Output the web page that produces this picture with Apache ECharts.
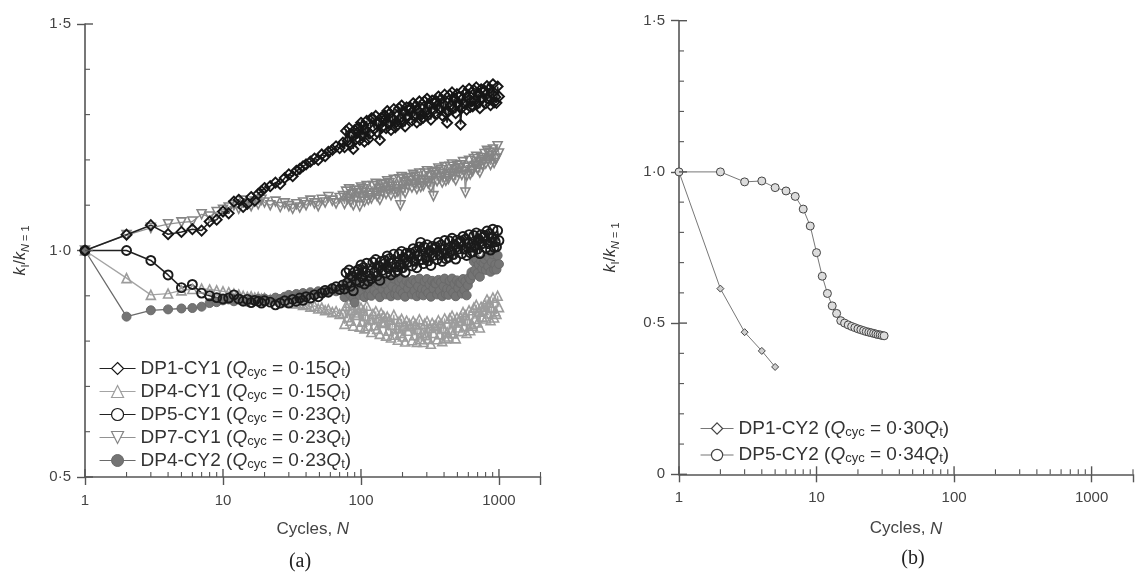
<!DOCTYPE html>
<html>
<head>
<meta charset="utf-8">
<script src="https://cdn.jsdelivr.net/npm/echarts@6/dist/echarts.min.js"></script>
<style>
  html, body { margin: 0; padding: 0; background: #ffffff; }
  #chart { width: 1136px; height: 577px; }
</style>
</head>
<body>
<div id="chart"></div>
<script>
// ---------- panel (a): stiffness ratio against cycle number ----------
const cycles = [
  1, 2, 3, 4, 5, 6, 7, 8, 9, 10,
  11, 12, 13, 14, 15, 16, 17, 18, 19, 20,
  22, 24, 26, 28, 30, 32, 34, 36, 38, 40,
  43, 46, 49, 52, 55, 58, 62, 66, 70, 74,
  76, 78, 80, 82, 84, 86, 88, 90, 92, 94,
  96, 98, 100, 102, 104, 106, 108, 110, 113, 116,
  119, 122, 125, 128, 131, 134, 137, 140, 143, 146,
  149, 152, 155, 158, 161, 165, 169, 173, 177, 181,
  185, 189, 193, 197, 201, 205, 209, 214, 219, 224,
  229, 234, 239, 244, 249, 254, 259, 265, 271, 277,
  283, 289, 295, 301, 307, 314, 321, 328, 335, 342,
  349, 356, 364, 372, 380, 388, 396, 404, 412, 421,
  430, 439, 448, 457, 466, 476, 486, 496, 506, 516,
  527, 538, 549, 560, 571, 583, 595, 607, 619, 632,
  645, 658, 671, 685, 699, 713, 727, 742, 757, 772,
  787, 803, 819, 835, 852, 869, 886, 904, 922, 940,
  959, 978, 1000
];

const dp1cy1 = [
  1.000, 1.035, 1.056, 1.036, 1.041, 1.047, 1.044, 1.064, 1.068, 1.086,
  1.082, 1.108, 1.112, 1.096, 1.103, 1.118, 1.110, 1.125, 1.131, 1.138,
  1.142, 1.150, 1.147, 1.160, 1.168, 1.164, 1.176, 1.180, 1.186, 1.190,
  1.196, 1.203, 1.200, 1.212, 1.208, 1.218, 1.222, 1.230, 1.226, 1.238,
  1.228, 1.264, 1.242, 1.270, 1.234, 1.256, 1.224, 1.266, 1.246, 1.260,
  1.272, 1.244, 1.282, 1.254, 1.276, 1.240, 1.266, 1.286, 1.246, 1.258,
  1.292, 1.291, 1.269, 1.297, 1.261, 1.283, 1.244, 1.293, 1.273, 1.287,
  1.298, 1.270, 1.308, 1.280, 1.302, 1.266, 1.292, 1.312, 1.272, 1.284,
  1.278, 1.314, 1.292, 1.320, 1.284, 1.306, 1.274, 1.316, 1.296, 1.310,
  1.315, 1.287, 1.325, 1.297, 1.319, 1.283, 1.309, 1.329, 1.289, 1.301,
  1.293, 1.329, 1.307, 1.335, 1.299, 1.321, 1.289, 1.331, 1.311, 1.325,
  1.330, 1.302, 1.340, 1.312, 1.334, 1.298, 1.324, 1.344, 1.304, 1.282,
  1.307, 1.343, 1.321, 1.349, 1.313, 1.335, 1.303, 1.345, 1.325, 1.339,
  1.278, 1.315, 1.353, 1.325, 1.347, 1.311, 1.337, 1.357, 1.317, 1.329,
  1.318, 1.354, 1.332, 1.360, 1.324, 1.346, 1.314, 1.356, 1.336, 1.350,
  1.353, 1.325, 1.363, 1.335, 1.357, 1.321, 1.347, 1.367, 1.327, 1.339,
  1.326, 1.362, 1.340
];

const dp4cy1 = [
  1.000, 0.939, 0.902, 0.905, 0.912, 0.915, 0.916, 0.914, 0.912, 0.910,
  0.908, 0.905, 0.903, 0.900, 0.898, 0.899, 0.896, 0.897, 0.894, 0.895,
  0.892, 0.893, 0.889, 0.890, 0.886, 0.887, 0.883, 0.884, 0.880, 0.881,
  0.876, 0.878, 0.872, 0.874, 0.868, 0.870, 0.864, 0.866, 0.860, 0.862,
  0.838, 0.878, 0.853, 0.884, 0.845, 0.869, 0.834, 0.880, 0.858, 0.873,
  0.863, 0.832, 0.874, 0.843, 0.867, 0.828, 0.856, 0.878, 0.834, 0.848,
  0.820, 0.860, 0.835, 0.866, 0.827, 0.851, 0.816, 0.862, 0.840, 0.855,
  0.843, 0.812, 0.854, 0.823, 0.847, 0.808, 0.836, 0.858, 0.814, 0.828,
  0.803, 0.843, 0.818, 0.849, 0.810, 0.834, 0.799, 0.845, 0.823, 0.838,
  0.833, 0.802, 0.844, 0.813, 0.837, 0.798, 0.826, 0.848, 0.804, 0.818,
  0.798, 0.838, 0.813, 0.844, 0.805, 0.829, 0.794, 0.840, 0.818, 0.833,
  0.835, 0.804, 0.846, 0.815, 0.839, 0.800, 0.828, 0.850, 0.806, 0.820,
  0.810, 0.850, 0.825, 0.856, 0.817, 0.841, 0.806, 0.852, 0.830, 0.845,
  0.853, 0.822, 0.864, 0.833, 0.857, 0.818, 0.846, 0.868, 0.824, 0.838,
  0.834, 0.874, 0.849, 0.880, 0.841, 0.865, 0.830, 0.876, 0.854, 0.869,
  0.881, 0.850, 0.892, 0.861, 0.885, 0.846, 0.874, 0.896, 0.852, 0.866,
  0.860, 0.900, 0.875
];

const dp5cy1 = [
  1.000, 1.000, 0.978, 0.946, 0.918, 0.925, 0.906, 0.900, 0.896, 0.893,
  0.895, 0.902, 0.893, 0.888, 0.892, 0.885, 0.890, 0.888, 0.884, 0.889,
  0.886, 0.880, 0.884, 0.889, 0.884, 0.892, 0.888, 0.895, 0.890, 0.898,
  0.895, 0.902, 0.898, 0.906, 0.912, 0.908, 0.916, 0.920, 0.914, 0.924,
  0.915, 0.951, 0.929, 0.957, 0.921, 0.943, 0.911, 0.953, 0.933, 0.947,
  0.958, 0.930, 0.968, 0.940, 0.962, 0.926, 0.952, 0.972, 0.932, 0.944,
  0.938, 0.974, 0.952, 0.980, 0.944, 0.966, 0.934, 0.976, 0.956, 0.970,
  0.978, 0.950, 0.988, 0.960, 0.982, 0.946, 0.972, 0.992, 0.952, 0.964,
  0.956, 0.992, 0.970, 0.998, 0.962, 0.984, 0.952, 0.994, 0.974, 0.988,
  0.994, 0.966, 1.004, 0.976, 0.998, 0.962, 0.988, 1.008, 1.018, 0.980,
  0.971, 1.007, 0.985, 1.013, 0.977, 0.999, 0.967, 1.009, 0.989, 1.003,
  1.008, 0.980, 1.018, 0.990, 1.012, 0.976, 1.002, 1.022, 0.982, 0.994,
  0.985, 1.021, 0.999, 1.027, 0.991, 1.013, 0.981, 1.023, 1.003, 1.017,
  1.021, 0.993, 1.031, 1.003, 1.025, 0.989, 1.015, 1.035, 0.995, 1.007,
  0.997, 1.033, 1.011, 1.039, 1.003, 1.025, 0.993, 1.035, 1.015, 1.029,
  1.033, 1.005, 1.043, 1.015, 1.037, 1.001, 1.027, 1.047, 1.007, 1.019,
  1.008, 1.044, 1.022
];

const dp7cy1 = [
  1.000, 1.034, 1.050, 1.058, 1.062, 1.064, 1.080, 1.075, 1.085, 1.090,
  1.095, 1.100, 1.092, 1.110, 1.104, 1.098, 1.108, 1.102, 1.112, 1.106,
  1.100, 1.108, 1.096, 1.104, 1.098, 1.092, 1.102, 1.095, 1.106, 1.100,
  1.110, 1.104, 1.098, 1.112, 1.106, 1.118, 1.110, 1.104, 1.116, 1.120,
  1.103, 1.130, 1.114, 1.135, 1.108, 1.124, 1.100, 1.132, 1.117, 1.127,
  1.132, 1.098, 1.139, 1.118, 1.135, 1.108, 1.127, 1.142, 1.112, 1.121,
  1.115, 1.142, 1.126, 1.147, 1.120, 1.136, 1.112, 1.144, 1.129, 1.139,
  1.146, 1.125, 1.153, 1.132, 1.149, 1.122, 1.141, 1.156, 1.126, 1.135,
  1.130, 1.157, 1.100, 1.162, 1.135, 1.151, 1.127, 1.159, 1.144, 1.154,
  1.160, 1.139, 1.167, 1.146, 1.163, 1.136, 1.155, 1.170, 1.140, 1.149,
  1.143, 1.170, 1.154, 1.175, 1.148, 1.164, 1.140, 1.172, 1.120, 1.167,
  1.174, 1.153, 1.181, 1.160, 1.177, 1.150, 1.169, 1.184, 1.154, 1.163,
  1.158, 1.185, 1.169, 1.190, 1.163, 1.179, 1.155, 1.187, 1.172, 1.182,
  1.188, 1.167, 1.195, 1.174, 1.128, 1.164, 1.183, 1.198, 1.168, 1.177,
  1.175, 1.202, 1.186, 1.207, 1.180, 1.196, 1.172, 1.204, 1.189, 1.199,
  1.213, 1.192, 1.220, 1.199, 1.216, 1.189, 1.208, 1.223, 1.193, 1.202,
  1.203, 1.230, 1.214
];

const dp4cy2 = [
  1.000, 0.854, 0.868, 0.870, 0.872, 0.873, 0.876, 0.884, 0.886, 0.890,
  0.892, 0.888, 0.894, 0.890, 0.887, 0.892, 0.889, 0.893, 0.890, 0.894,
  0.891, 0.896, 0.893, 0.898, 0.902, 0.897, 0.904, 0.900, 0.906, 0.902,
  0.908, 0.904, 0.910, 0.906, 0.912, 0.908, 0.914, 0.910, 0.916, 0.911,
  0.897, 0.928, 0.909, 0.933, 0.902, 0.921, 0.894, 0.885, 0.912, 0.924,
  0.925, 0.901, 0.933, 0.909, 0.928, 0.897, 0.919, 0.936, 0.902, 0.913,
  0.900, 0.931, 0.912, 0.936, 0.905, 0.924, 0.897, 0.932, 0.915, 0.927,
  0.927, 0.903, 0.935, 0.911, 0.930, 0.899, 0.921, 0.938, 0.904, 0.915,
  0.901, 0.932, 0.913, 0.937, 0.906, 0.925, 0.898, 0.933, 0.916, 0.928,
  0.927, 0.903, 0.935, 0.911, 0.930, 0.899, 0.921, 0.938, 0.904, 0.915,
  0.901, 0.932, 0.913, 0.937, 0.906, 0.925, 0.898, 0.933, 0.916, 0.928,
  0.927, 0.903, 0.935, 0.911, 0.930, 0.899, 0.921, 0.938, 0.904, 0.915,
  0.902, 0.933, 0.914, 0.938, 0.907, 0.926, 0.899, 0.934, 0.917, 0.929,
  0.928, 0.905, 0.937, 0.913, 0.932, 0.901, 0.923, 0.940, 0.936, 0.952,
  0.945, 0.976, 0.957, 0.981, 0.950, 0.969, 0.942, 0.977, 0.960, 0.972,
  0.981, 0.957, 0.989, 0.965, 0.984, 0.953, 0.975, 0.992, 0.958, 0.969,
  0.958, 0.989, 0.970
];

const testsA = ['DP1-CY1', 'DP4-CY1', 'DP5-CY1', 'DP7-CY1', 'DP4-CY2'];
const loadsA = ['0·15', '0·15', '0·23', '0·23', '0·23'];

// ---------- panel (b) ----------
const cyclesDP1CY2 = [1, 2, 3, 4, 5];
const dp1cy2 = [1.000, 0.614, 0.470, 0.408, 0.355];
const cyclesDP5CY2 = [
  1, 2, 3, 4, 5, 6, 7, 8, 9, 10,
  11, 12, 13, 14, 15, 16, 17, 18, 19, 20,
  21, 22, 23, 24, 25, 26, 27, 28, 29, 30, 31
];
const dp5cy2 = [
  1.000, 1.000, 0.967, 0.970, 0.948, 0.937, 0.919, 0.877, 0.821, 0.733,
  0.655, 0.598, 0.557, 0.532, 0.508, 0.500, 0.494, 0.489, 0.485, 0.481,
  0.478, 0.475, 0.472, 0.470, 0.468, 0.466, 0.464, 0.462, 0.461, 0.459, 0.458
];
const testsB = ['DP1-CY2', 'DP5-CY2'];
const loadsB = ['0·30', '0·34'];

// ---------- axis ticks ----------
const xTickLabels = ['1', '10', '100', '1000'];
const xInnerTicks = [1, 2, 3, 4, 5, 6, 7, 8, 9, 10, 20, 30, 40, 50, 60, 70, 80, 90,
  100, 200, 300, 400, 500, 600, 700, 800, 900, 1000, 2000];
const yInnerTicksA = [0.5, 0.6, 0.7, 0.8, 0.9, 1.0, 1.1, 1.2, 1.3, 1.4, 1.5];
const yInnerTicksB = [0, 0.1, 0.2, 0.3, 0.4, 0.5, 0.6, 0.7, 0.8, 0.9, 1.0, 1.1, 1.2, 1.3, 1.4, 1.5];

const FONT = 'Liberation Sans, Arial, Helvetica, sans-serif';
const AXIS_COLOR = '#555';
const TEXT_COLOR = '#444';

const pairs = (xs, ys) => xs.map((x, i) => [x, ys[i]]);
const fmtY = v => (Math.abs(v) < 1e-9 ? '0' : v.toFixed(1).replace('.', '·'));
const fmtX = v => {
  const s = String(Math.round(v));
  return xTickLabels.indexOf(s) >= 0 && Math.abs(v - Math.round(v)) < 1e-6 ? s : '';
};

function legendLabel(names, loads) {
  return function (name) {
    const q = loads[names.indexOf(name)];
    return '{t|' + name + ' (}{q|Q}{s|cyc}{t| = ' + q + '}{q|Q}{s|t}{t|)}';
  };
}

const legendRich = {
  t: { fontSize: 19, lineHeight: 20, color: '#333', fontFamily: FONT },
  q: { fontSize: 19, lineHeight: 20, color: '#333', fontStyle: 'italic', fontFamily: FONT },
  s: { fontSize: 13, lineHeight: 8, verticalAlign: 'bottom', color: '#333', fontFamily: FONT }
};

const yNameRich = {
  k: { fontSize: 16, lineHeight: 20, fontStyle: 'italic', color: '#333', fontFamily: FONT },
  n: { fontSize: 16, lineHeight: 20, color: '#333', fontFamily: FONT },
  sb: { fontSize: 11, lineHeight: 8, verticalAlign: 'bottom', color: '#333', fontFamily: FONT },
  sbi: { fontSize: 11, lineHeight: 8, verticalAlign: 'bottom', fontStyle: 'italic', color: '#333', fontFamily: FONT }
};
const yName = '{k|k}{sb|I}{n|/}{k|k}{sbi|N}{sb| = 1}';

function xAxisCfg(gridIndex, nameGap) {
  return {
    type: 'log', logBase: 10, gridIndex, min: 1, max: 2000,
    name: 'Cycles, {i|N}', nameLocation: 'middle', nameGap,
    nameTextStyle: { fontSize: 17, color: TEXT_COLOR, fontFamily: FONT,
      rich: { i: { fontSize: 17, fontStyle: 'italic', color: TEXT_COLOR, fontFamily: FONT } } },
    axisLine: { lineStyle: { color: AXIS_COLOR, width: 1.6 } },
    axisTick: { show: true, inside: false, length: 8, lineStyle: { color: AXIS_COLOR, width: 1.4 } },
    axisLabel: { formatter: fmtX, fontSize: 15, color: TEXT_COLOR, fontFamily: FONT, margin: 16 },
    splitLine: { show: false }, minorTick: { show: false }
  };
}

function yAxisCfg(gridIndex, min, nameGap) {
  return {
    type: 'value', gridIndex, min, max: 1.5, interval: 0.5,
    name: yName, nameLocation: 'middle', nameRotate: 90, nameGap,
    nameTextStyle: { rich: yNameRich },
    axisLine: { onZero: false, lineStyle: { color: AXIS_COLOR, width: 1.6 } },
    axisTick: { show: true, inside: false, length: 8, lineStyle: { color: AXIS_COLOR, width: 1.4 } },
    axisLabel: { formatter: fmtY, fontSize: 15, color: TEXT_COLOR, fontFamily: FONT, margin: 14 },
    splitLine: { show: false }
  };
}

// Inward tick marks on both axes (major ticks cross the axis, minor ticks point in)
function innerTickSeries(gridIdx, yMin, yTicks) {
  const xData = xInnerTicks.map(v => [v, yMin]);
  const yData = yTicks.map(v => [1, v]);
  const common = { type: 'custom', coordinateSystem: 'cartesian2d', xAxisIndex: gridIdx,
    yAxisIndex: gridIdx, silent: true, clip: false, z: 5, animation: false };
  return [
    Object.assign({}, common, {
      data: xData,
      renderItem: (params, api) => {
        const v = api.value(0);
        const p = api.coord([v, api.value(1)]);
        const major = Math.abs(Math.log10(v) - Math.round(Math.log10(v))) < 1e-9;
        const len = major ? 8 : 5;
        return { type: 'line', shape: { x1: p[0], y1: p[1], x2: p[0], y2: p[1] - len },
          style: { stroke: AXIS_COLOR, lineWidth: major ? 1.4 : 1.1 } };
      }
    }),
    Object.assign({}, common, {
      data: yData,
      renderItem: (params, api) => {
        const v = api.value(1);
        const p = api.coord([api.value(0), v]);
        const major = Math.abs(v * 2 - Math.round(v * 2)) < 1e-9;
        const len = major ? 8 : 5;
        return { type: 'line', shape: { x1: p[0], y1: p[1], x2: p[0] + len, y2: p[1] },
          style: { stroke: AXIS_COLOR, lineWidth: major ? 1.4 : 1.1 } };
      }
    })
  ];
}

const TRI_DOWN = 'path://M0,0L20,0L10,17.3Z';
const HOLLOW = 'rgba(255,255,255,0)';

function lineSeries(name, data, idx, symbol, size, stroke, lineColor, fill, lw, bw) {
  return {
    name, type: 'line', data, xAxisIndex: idx, yAxisIndex: idx,
    symbol, symbolSize: size, showAllSymbol: true,
    lineStyle: { color: lineColor, width: lw },
    itemStyle: { color: fill, borderColor: stroke, borderWidth: bw },
    emphasis: { disabled: true }, animation: false, z: 3
  };
}

// legend icons keep the thin strokes of the key, independent of the dense plot strokes
const keyItem = (name, filled) => ({
  name,
  itemStyle: filled ? { borderWidth: 1 } : { color: '#fff', borderWidth: 1.2 },
  lineStyle: { width: 1.1 }
});

const option = {
  backgroundColor: '#ffffff',
  animation: false,
  grid: [
    { left: 85, top: 24, width: 455.5, height: 453 },
    { left: 679, top: 20.7, width: 460.2, height: 453.6 }
  ],
  xAxis: [xAxisCfg(0, 44), xAxisCfg(1, 46)],
  yAxis: [yAxisCfg(0, 0.5, 54), yAxisCfg(1, 0, 58)],
  legend: [
    {
      orient: 'vertical', left: 99, top: 359, padding: 0, itemGap: 3.5,
      itemWidth: 36, itemHeight: 15,
      data: [
        keyItem('DP1-CY1', false),
        keyItem('DP4-CY1', false),
        keyItem('DP5-CY1', false),
        keyItem('DP7-CY1', false),
        keyItem('DP4-CY2', true)
      ],
      formatter: legendLabel(testsA, loadsA),
      textStyle: { rich: legendRich }, selectedMode: false
    },
    {
      orient: 'vertical', left: 700, top: 419, padding: 0, itemGap: 7,
      itemWidth: 33, itemHeight: 14,
      data: [keyItem('DP1-CY2', false), keyItem('DP5-CY2', false)],
      formatter: legendLabel(testsB, loadsB),
      textStyle: { rich: legendRich }, selectedMode: false
    }
  ],
  graphic: [
    { type: 'text', style: { text: '(a)', x: 300, y: 562, align: 'center',
      verticalAlign: 'middle', font: '20px "Liberation Serif", "Times New Roman", serif', fill: '#222' } },
    { type: 'text', style: { text: '(b)', x: 913, y: 559, align: 'center',
      verticalAlign: 'middle', font: '20px "Liberation Serif", "Times New Roman", serif', fill: '#222' } }
  ],
  series: [
    lineSeries('DP4-CY1', pairs(cycles, dp4cy1), 0, 'triangle', 9, '#9c9c9c', '#a4a4a4', HOLLOW, 1.3, 1.6),
    lineSeries('DP7-CY1', pairs(cycles, dp7cy1), 0, TRI_DOWN, 9, '#858585', '#929292', HOLLOW, 1.3, 1.6),
    lineSeries('DP4-CY2', pairs(cycles, dp4cy2), 0, 'circle', 9, '#6a6a6a', '#6a6a6a', '#747474', 1.3, 1),
    lineSeries('DP5-CY1', pairs(cycles, dp5cy1), 0, 'circle', 9, '#1a1a1a', '#222222', HOLLOW, 1.6, 1.9),
    lineSeries('DP1-CY1', pairs(cycles, dp1cy1), 0, 'diamond', 10, '#161616', '#222222', HOLLOW, 1.6, 1.9),
    lineSeries('DP1-CY2', pairs(cyclesDP1CY2, dp1cy2), 1, 'diamond', 7, '#444444', '#777777', '#cfcfcf', 1, 1),
    lineSeries('DP5-CY2', pairs(cyclesDP5CY2, dp5cy2), 1, 'circle', 8, '#444444', '#777777', '#dcdcdc', 1, 1)
  ].concat(innerTickSeries(0, 0.5, yInnerTicksA), innerTickSeries(1, 0, yInnerTicksB))
};

const chart = echarts.init(document.getElementById('chart'), null, { renderer: 'canvas' });
chart.setOption(option);
</script>
</body>
</html>
